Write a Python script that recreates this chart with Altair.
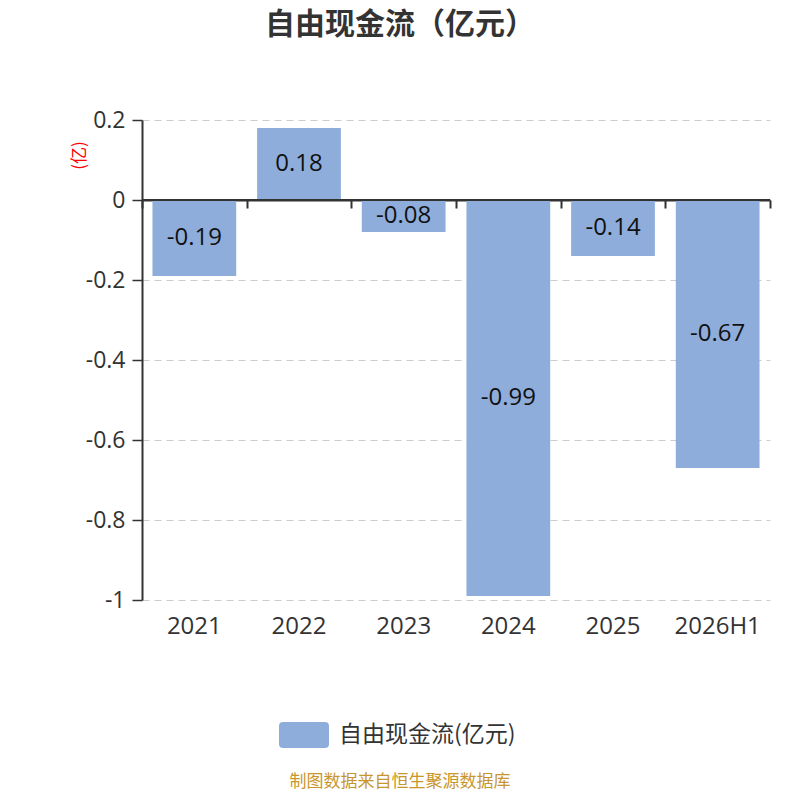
import altair as alt
import pandas as pd

years = ["2021", "2022", "2023", "2024", "2025", "2026H1"]
values = [-0.19, 0.18, -0.08, -0.99, -0.14, -0.67]
value_labels = ["-0.19", "0.18", "-0.08", "-0.99", "-0.14", "-0.67"]
y_ticks = [-1, -0.8, -0.6, -0.4, -0.2, 0, 0.2]
series_name = "自由现金流(亿元)"
title_text = "自由现金流（亿元）"
footer_text = "制图数据来自恒生聚源数据库"

FONT = "Open Sans, Noto Sans CJK SC"
CJK = "Noto Sans CJK SC"
BAR = "#8eaddb"

df = pd.DataFrame({"year": years, "value": values, "label": value_labels,
                   "series": [series_name] * len(years)})
df["mid"] = df["value"] / 2

W, H = 628, 480
ymin, ymax = y_ticks[0], y_ticks[-1]
zero_px = H * ymax / (ymax - ymin)

xband = alt.Scale(domain=years, paddingInner=0, paddingOuter=0)
yscale = alt.Scale(domain=[ymin, ymax], nice=False, zero=False)

x_axis = alt.Axis(title=None, labelAngle=0, domain=False, ticks=False, grid=False,
                  labelFontSize=24, labelColor="#333", labelFont=FONT, labelPadding=14)
y_axis = alt.Axis(values=y_ticks, title="(亿)", titleColor="red", titleFont=CJK,
                  titleFontSize=17, titleFontWeight="normal", titleAngle=270,
                  titleX=-63, titleY=35, titleAlign="center", titleBaseline="middle",
                  labelExpr="replace(format(datum.value, '~g'), '\u2212', '-')",
                  labelFontSize=23, labelColor="#333", labelFont=FONT, labelPadding=7,
                  tickSize=10, tickColor="#333", tickWidth=1.5,
                  domainColor="#333", domainWidth=2,
                  grid=True, gridColor="#cccccc", gridDash=[7, 5], gridWidth=1.2)

bars = alt.Chart(df).mark_bar(width=alt.RelativeBandSize(0.8)).encode(
    x=alt.X("year:N", sort=years, scale=xband, axis=x_axis),
    y=alt.Y("value:Q", scale=yscale, axis=y_axis),
    color=alt.Color("series:N", scale=alt.Scale(range=[BAR]),
                    legend=alt.Legend(title=None, orient="none", legendX=137, legendY=590,
                                      padding=0, labelFontSize=23, labelColor="#333",
                                      labelFont=CJK, labelOffset=10, labelLimit=0,
                                      symbolType="M-0.84,-0.52 L0.84,-0.52 Q1,-0.52 1,-0.36 L1,0.36 Q1,0.52 0.84,0.52 L-0.84,0.52 Q-1,0.52 -1,0.36 L-1,-0.36 Q-1,-0.52 -0.84,-0.52 Z",
                                      symbolSize=2500, symbolStrokeWidth=0, symbolOpacity=1)),
)

text = alt.Chart(df).mark_text(fontSize=24, font=FONT, color="#111", baseline="middle",
                               align="center").encode(
    x=alt.X("year:N", sort=years, scale=xband, axis=x_axis),
    y=alt.Y("mid:Q", scale=yscale, axis=y_axis),
    text="label:N",
)

zdf = pd.DataFrame({"a": [0], "b": [len(years)], "z": [0]})
zero_axis = alt.Chart(zdf).mark_rule(color="#333", strokeWidth=2).encode(
    x=alt.X("a:Q", scale=alt.Scale(domain=[0, len(years)], nice=False, zero=False),
            axis=alt.Axis(orient="bottom", offset=-(H - zero_px), values=list(range(len(years) + 1)),
                          labels=False, ticks=True, tickSize=8, tickColor="#333", tickWidth=2,
                          domainColor="#333", domainWidth=2, grid=False, title=None)),
    x2="b:Q",
    y=alt.Y("z:Q", scale=yscale, axis=y_axis),
)

fdf = pd.DataFrame({"t": [footer_text]})
footer = alt.Chart(fdf).mark_text(fontSize=17, font=CJK, color="#c8962d", align="center",
                                  baseline="middle").encode(
    x=alt.value(400 - 142), y=alt.value(782 - 120), text="t:N")

chart = alt.layer(alt.layer(bars, text), zero_axis, footer).resolve_scale(x="independent").properties(
    width=W, height=H,
    autosize=alt.AutoSizeParams(type="none"),
    padding={"left": 134, "top": 112, "right": 20, "bottom": 192},
    title=alt.TitleParams(title_text, fontSize=30, fontWeight="bold", color="#333", font=CJK,
                          anchor="middle", dx=-56, offset=69),
).configure_view(stroke=None)

chart.save("out.html", embed_options={"renderer": "svg", "actions": False})
